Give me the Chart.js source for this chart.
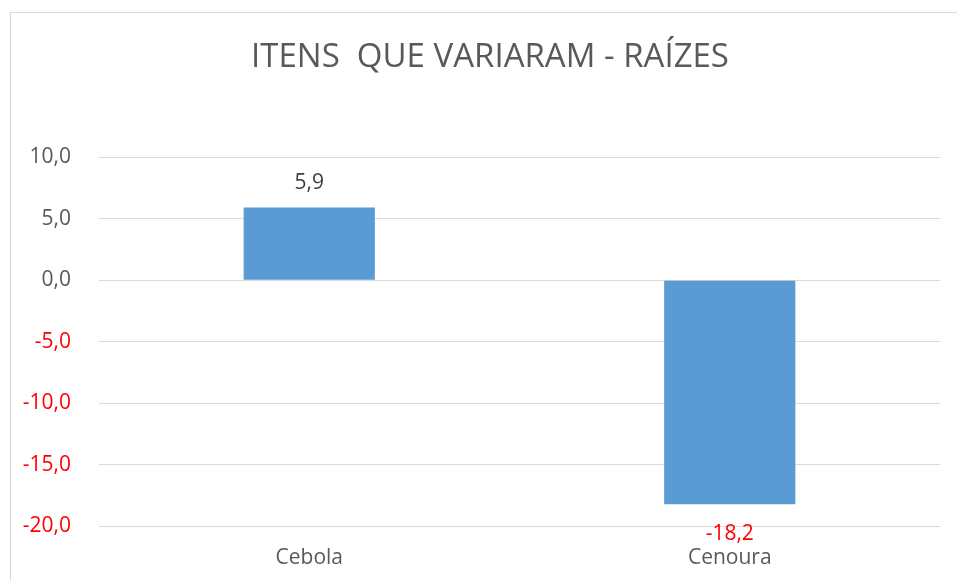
<!DOCTYPE html>
<html>
<head>
<meta charset="utf-8">
<script src="https://cdn.jsdelivr.net/npm/chart.js@4.4.1/dist/chart.umd.min.js"></script>
<style>
    html, body { margin: 0; padding: 0; background: #fff; overflow: hidden; }
    #wrap { position: relative; width: 957px; height: 581px; }
    #frame { position: absolute; left: 10px; top: 12px; width: 1000px; height: 700px; border: 1px solid #d9d9d9; box-sizing: border-box; }
    #chart { position: absolute; left: 0; top: 0; }
</style>
</head>
<body>
<div id="wrap">
    <div id="frame"></div>
    <canvas id="chart" width="957" height="581"></canvas>
</div>
<script>
// Dados do gráfico
const categorias = ["Cebola", "Cenoura"];
const variacao = [5.9, -18.2];
const tituloGrafico = "ITENS  QUE VARIARAM - RAÍZES";

const fonte = "'Open Sans', sans-serif";

// Formata número com vírgula decimal
function formatar(v) {
    return v.toFixed(1).replace(".", ",");
}

// Título centralizado na moldura (não só na área do canvas)
const tituloPlugin = {
    id: "tituloMoldura",
    afterDraw(chart) {
        const ctx = chart.ctx;
        ctx.save();
        ctx.font = "33px " + fonte;
        ctx.fillStyle = "#595959";
        ctx.textAlign = "center";
        ctx.textBaseline = "middle";
        ctx.fillText(tituloGrafico, 490, 58);
        ctx.restore();
    }
};

// Plugin simples para rótulos de dados (acima / abaixo da barra)
const rotulosPlugin = {
    id: "rotulos",
    afterDatasetsDraw(chart) {
        const ctx = chart.ctx;
        const meta = chart.getDatasetMeta(0);
        ctx.save();
        ctx.font = "21px " + fonte;
        ctx.textAlign = "center";
        ctx.textBaseline = "alphabetic";
        meta.data.forEach((bar, i) => {
            const v = variacao[i];
            if (v >= 0) {
                ctx.fillStyle = "#404040";
                ctx.fillText(formatar(v), bar.x, bar.y - 18);
            } else {
                ctx.fillStyle = "#ff0000";
                ctx.fillText(formatar(v), bar.x, bar.y + 36);
            }
        });
        ctx.restore();
    }
};

new Chart(document.getElementById("chart").getContext("2d"), {
    type: "bar",
    data: {
        labels: categorias,
        datasets: [{
            data: variacao,
            backgroundColor: "#5b9bd5",
            borderWidth: 0,
            barPercentage: 0.312,
            categoryPercentage: 1
        }]
    },
    options: {
        responsive: false,
        animation: false,
        layout: { padding: { left: 0, right: 17, top: 157, bottom: 4.5 } },
        plugins: {
            legend: { display: false },
            tooltip: { enabled: false },
            title: { display: false }
        },
        scales: {
            x: {
                afterFit(scale) { scale.height = 50; },
                grid: { display: false },
                border: { display: false },
                ticks: {
                    color: "#595959",
                    font: { family: fonte, size: 21 },
                    padding: 10.5,
                    maxRotation: 0
                }
            },
            y: {
                min: -20,
                max: 10,
                afterFit(scale) { scale.width = 99; },
                grid: { color: "#d9d9d9", lineWidth: 1, drawTicks: false },
                border: { display: false },
                ticks: {
                    stepSize: 5,
                    padding: 28,
                    font: { family: fonte, size: 21 },
                    color: (c) => c.tick.value < 0 ? "#ff0000" : "#595959",
                    callback: (v) => formatar(v)
                }
            }
        }
    },
    plugins: [rotulosPlugin, tituloPlugin]
});
</script>
</body>
</html>
